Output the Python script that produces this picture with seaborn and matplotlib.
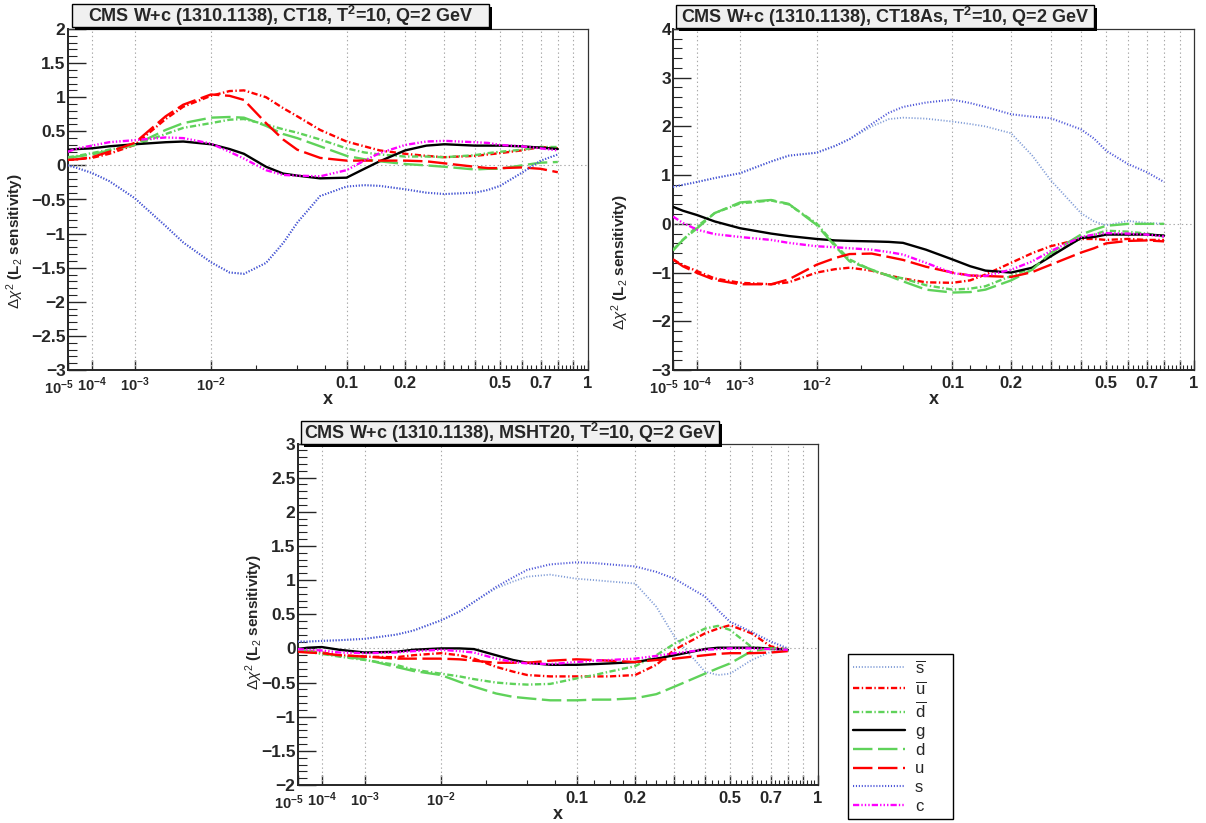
import numpy as np
import matplotlib
matplotlib.use("Agg")
import matplotlib.pyplot as plt
from matplotlib.lines import Line2D
from matplotlib.patches import Rectangle
from matplotlib.ticker import FixedLocator, MultipleLocator
import seaborn as sns

x_vals = [1e-5, 3e-5, 1e-4, 3e-4, 1e-3, 3e-3, 5e-3, 1e-2, 0.015, 0.02, 0.03, 0.04, 0.05,
          0.07, 0.1, 0.125, 0.15, 0.2, 0.25, 0.3, 0.4, 0.45, 0.5, 0.6, 0.7, 0.8]

# CT18
ct18_sbar = [0.0, -0.04, -0.11, -0.23, -0.48, -0.89, -1.13, -1.42, -1.57, -1.59, -1.43, -1.14, -0.84,
             -0.45, -0.31, -0.29, -0.30, -0.35, -0.40, -0.42, -0.40, -0.36, -0.30, -0.11, 0.07, 0.16]
ct18_ubar = [0.08, 0.09, 0.11, 0.17, 0.30, 0.68, 0.86, 1.02, 1.09, 1.10, 1.00, 0.84, 0.72,
             0.52, 0.35, 0.28, 0.22, 0.17, 0.14, 0.12, 0.14, 0.16, 0.18, 0.22, 0.27, 0.25]
ct18_dbar = [0.12, 0.14, 0.18, 0.23, 0.30, 0.46, 0.55, 0.62, 0.67, 0.68, 0.60, 0.53, 0.48,
             0.38, 0.25, 0.19, 0.16, 0.13, 0.13, 0.12, 0.15, 0.18, 0.20, 0.23, 0.27, 0.27]
ct18_g = [0.23, 0.24, 0.25, 0.28, 0.31, 0.34, 0.35, 0.31, 0.24, 0.17, -0.02, -0.12, -0.15,
          -0.19, -0.18, -0.05, 0.06, 0.22, 0.29, 0.31, 0.29, 0.29, 0.29, 0.28, 0.26, 0.24]
ct18_d = [0.11, 0.13, 0.16, 0.22, 0.30, 0.52, 0.62, 0.70, 0.71, 0.70, 0.58, 0.46, 0.40,
          0.28, 0.14, 0.09, 0.06, 0.02, 0.0, -0.02, -0.06, -0.05, -0.05, 0.00, 0.04, 0.05]
ct18_u = [0.08, 0.09, 0.12, 0.20, 0.33, 0.72, 0.89, 1.04, 1.02, 0.96, 0.62, 0.38, 0.23,
          0.11, 0.07, 0.07, 0.07, 0.07, 0.06, 0.03, -0.02, -0.04, -0.04, -0.03, -0.05, -0.10]
ct18_s = [0.0, -0.04, -0.11, -0.23, -0.48, -0.89, -1.13, -1.42, -1.57, -1.59, -1.43, -1.14, -0.84,
          -0.45, -0.31, -0.29, -0.30, -0.35, -0.40, -0.42, -0.40, -0.36, -0.30, -0.11, 0.07, 0.16]
ct18_c = [0.20, 0.25, 0.29, 0.34, 0.37, 0.41, 0.40, 0.32, 0.20, 0.10, -0.07, -0.14, -0.15,
          -0.16, -0.07, 0.07, 0.18, 0.30, 0.35, 0.36, 0.34, 0.33, 0.30, 0.28, 0.25, 0.22]

# CT18As
ct18as_sbar = [0.76, 0.80, 0.86, 0.94, 1.04, 1.28, 1.40, 1.46, 1.60, 1.74, 2.00, 2.15, 2.18,
               2.16, 2.10, 2.05, 2.00, 1.86, 1.40, 0.90, 0.22, 0.05, -0.03, 0.06, 0.02, 0.0]
ct18as_ubar = [-0.73, -0.85, -0.97, -1.12, -1.21, -1.24, -1.20, -1.00, -0.93, -0.90, -0.96, -1.06, -1.12,
               -1.20, -1.21, -1.16, -1.04, -0.80, -0.60, -0.46, -0.31, -0.31, -0.33, -0.31, -0.33, -0.33]
ct18as_dbar = [-0.53, -0.33, -0.05, 0.22, 0.42, 0.48, 0.40, 0.01, -0.43, -0.73, -0.95, -1.06, -1.12,
               -1.26, -1.35, -1.33, -1.28, -1.07, -0.90, -0.65, -0.29, -0.22, -0.14, -0.16, -0.20, -0.26]
ct18as_g = [0.35, 0.27, 0.18, 0.05, -0.09, -0.20, -0.25, -0.31, -0.34, -0.35, -0.36, -0.37, -0.39,
            -0.53, -0.73, -0.87, -0.96, -1.00, -0.90, -0.67, -0.29, -0.27, -0.22, -0.22, -0.22, -0.24]
ct18as_d = [-0.55, -0.33, -0.09, 0.22, 0.44, 0.49, 0.41, -0.02, -0.46, -0.77, -0.94, -1.07, -1.18,
            -1.35, -1.41, -1.40, -1.35, -1.16, -0.94, -0.60, -0.22, -0.12, -0.04, 0.0, 0.0, 0.0]
ct18as_u = [-0.73, -0.87, -1.01, -1.15, -1.24, -1.24, -1.14, -0.84, -0.70, -0.62, -0.61, -0.68, -0.74,
            -0.88, -1.00, -1.06, -1.07, -1.09, -0.99, -0.84, -0.59, -0.50, -0.40, -0.35, -0.34, -0.36]
ct18as_s = [0.76, 0.80, 0.86, 0.94, 1.04, 1.28, 1.40, 1.46, 1.60, 1.74, 2.05, 2.28, 2.40,
            2.49, 2.55, 2.48, 2.40, 2.25, 2.20, 2.17, 1.94, 1.75, 1.50, 1.23, 1.06, 0.86]
ct18as_c = [0.15, 0.02, -0.12, -0.21, -0.27, -0.33, -0.39, -0.46, -0.48, -0.50, -0.53, -0.58, -0.63,
            -0.80, -1.01, -1.06, -1.07, -0.94, -0.77, -0.56, -0.27, -0.22, -0.19, -0.20, -0.22, -0.26]

# MSHT20
msht_sbar = [0.10, 0.10, 0.11, 0.12, 0.14, 0.20, 0.26, 0.41, 0.54, 0.68, 0.88, 0.98, 1.05,
             1.08, 1.02, 1.00, 0.98, 0.95, 0.61, 0.17, -0.34, -0.39, -0.37, -0.17, -0.05, -0.01]
msht_ubar = [-0.02, -0.04, -0.06, -0.10, -0.12, -0.13, -0.10, -0.07, -0.10, -0.15, -0.27, -0.34, -0.39,
             -0.41, -0.41, -0.41, -0.41, -0.39, -0.24, -0.02, 0.22, 0.29, 0.34, 0.22, 0.03, -0.02]
msht_dbar = [-0.02, -0.05, -0.08, -0.12, -0.17, -0.24, -0.31, -0.37, -0.41, -0.45, -0.50, -0.52, -0.53,
             -0.52, -0.44, -0.39, -0.34, -0.26, -0.10, 0.07, 0.29, 0.33, 0.27, 0.02, -0.01, -0.02]
msht_g = [-0.01, 0.01, 0.02, -0.02, -0.06, -0.05, -0.02, 0.0, 0.0, -0.01, -0.10, -0.17, -0.21,
          -0.24, -0.24, -0.23, -0.22, -0.20, -0.15, -0.10, -0.01, 0.01, 0.01, 0.01, 0.0, -0.02]
msht_d = [-0.02, -0.04, -0.07, -0.11, -0.16, -0.27, -0.33, -0.39, -0.49, -0.56, -0.66, -0.71, -0.73,
          -0.76, -0.76, -0.75, -0.75, -0.73, -0.67, -0.56, -0.37, -0.29, -0.22, -0.04, 0.0, -0.01]
msht_u = [-0.05, -0.06, -0.07, -0.10, -0.12, -0.15, -0.15, -0.15, -0.16, -0.18, -0.21, -0.21, -0.21,
          -0.18, -0.16, -0.17, -0.18, -0.20, -0.17, -0.15, -0.10, -0.08, -0.07, -0.07, -0.06, -0.04]
msht_s = [0.10, 0.10, 0.11, 0.12, 0.14, 0.20, 0.26, 0.41, 0.54, 0.68, 0.90, 1.04, 1.15,
          1.23, 1.26, 1.25, 1.23, 1.20, 1.12, 1.02, 0.76, 0.56, 0.39, 0.24, 0.10, 0.0]
msht_c = [-0.01, -0.02, -0.03, -0.06, -0.07, -0.06, -0.04, -0.02, -0.04, -0.06, -0.15, -0.20, -0.22,
          -0.23, -0.20, -0.18, -0.17, -0.15, -0.11, -0.07, -0.02, -0.01, 0.0, 0.0, -0.01, -0.02]

flavours = ["sbar", "ubar", "dbar", "g", "d", "u", "s", "c"]
legend_labels = [r"$\overline{\mathrm{s}}$", r"$\overline{\mathrm{u}}$", r"$\overline{\mathrm{d}}$",
                 "g", "d", "u", "s", "c"]

x_ticks = [1e-5, 1e-4, 1e-3, 1e-2, 0.1, 0.2, 0.3, 0.4, 0.5, 0.6, 0.7, 0.8, 0.9, 1.0]
x_ticklabels = ["", r"$\mathbf{10^{-4}}$", r"$\mathbf{10^{-3}}$", r"$\mathbf{10^{-2}}$",
                "0.1", "0.2", "", "", "0.5", "", "0.7", "", "", "1"]
first_label = r"$\mathbf{10^{-5}}$"
grid_x = [1e-4, 1e-3, 1e-2, 0.1, 0.2, 0.3, 0.4, 0.5, 0.6, 0.7, 0.8, 0.9]

green = "#5fd25a"
styles = {
    "sbar": ("#7f9bd6", (0, (0.8, 1.3)), 1.3),
    "ubar": ("#ff0000", (0, (4.5, 1.8, 1.0, 1.8)), 1.7),
    "dbar": (green, (0, (4.5, 1.8, 1.0, 1.8)), 1.7),
    "g": ("black", "-", 1.7),
    "d": (green, (0, (14, 4)), 1.7),
    "u": ("#ff0000", (0, (14, 4)), 1.7),
    "s": ("#4d56d8", (0, (0.8, 1.3)), 1.5),
    "c": ("#ff00ff", (0, (4.5, 1.5, 1.0, 1.5, 1.0, 1.5, 1.0, 1.5)), 1.7),
}

sns.set_style("ticks")
plt.rcParams["font.family"] = ["Liberation Sans", "DejaVu Sans"]
plt.rcParams["mathtext.fontset"] = "custom"
plt.rcParams["mathtext.rm"] = "Liberation Sans"
plt.rcParams["mathtext.bf"] = "Liberation Sans:bold"
plt.rcParams["mathtext.it"] = "Liberation Sans:italic"
plt.rcParams["lines.scale_dashes"] = False

W, H = 1206, 823
fig = plt.figure(figsize=(W / 100, H / 100), dpi=100)


def fwd(v):
    return np.power(np.clip(v, 1e-12, None), 0.25)


def inv(v):
    return np.power(np.clip(v, 0, None), 4)


def title_box(x0, y0, x1, y1, text):
    fig.patches.append(Rectangle(((x0 + 3) / W, 1 - (y1 + 3) / H), (x1 - x0) / W, (y1 - y0) / H,
                                 transform=fig.transFigure, facecolor="black", edgecolor="none", zorder=5))
    fig.patches.append(Rectangle((x0 / W, 1 - y1 / H), (x1 - x0) / W, (y1 - y0) / H,
                                 transform=fig.transFigure, facecolor="#f0f0f0", edgecolor="black",
                                 lw=1, zorder=6))
    fig.text((x0 + x1) / 2 / W, 1 - (y0 + y1) / 2 / H, text, ha="center", va="center",
             fontsize=13, fontweight="bold", zorder=7)


def draw_panel(rect, curves, ylim, ymaj, ymin, ylab_xy):
    ax = fig.add_axes(rect)
    for key in flavours:
        col, ls, lw = styles[key]
        sns.lineplot(x=x_vals, y=curves[key], ax=ax, color=col, linestyle=ls, linewidth=lw,
                     estimator=None, sort=False, zorder=3)
    ax.set_xscale("function", functions=(fwd, inv))
    ax.set_xlim(1e-5, 1)
    ax.set_ylim(*ylim)

    for gx in grid_x:
        ax.axvline(gx, color="#a8a8a8", ls=(0, (1, 2)), lw=0.8, zorder=1)
    ax.axhline(0, color="#a8a8a8", ls=(0, (1, 2)), lw=0.8, zorder=1)

    ax.xaxis.set_major_locator(FixedLocator(x_ticks))
    ax.set_xticklabels(x_ticklabels, fontweight="bold", fontsize=12)
    for lbl in ax.get_xticklabels()[:4]:
        lbl.set_fontsize(10.5)
    # the 10^-5 label sits a little left of the axis corner
    ax.annotate(first_label, xy=(1e-5, 0), xycoords=("data", "axes fraction"),
                xytext=(-6.5, -6.3), textcoords="offset points", ha="center", va="top",
                fontsize=10.5, annotation_clip=False)
    minor = [m for m in np.arange(0.025, 1.0, 0.025) if abs(m * 10 - round(m * 10)) > 1e-6]
    ax.xaxis.set_minor_locator(FixedLocator(minor))
    for t in ax.xaxis.get_major_ticks()[:4]:
        t.tick1line.set_visible(False)

    yt = np.arange(ylim[0], ylim[1] + 1e-9, ymaj)
    ax.set_yticks(yt)
    ax.set_yticklabels([f"{v:g}".replace("-", "\u2212") for v in yt], fontweight="bold", fontsize=12.5)
    ax.yaxis.set_minor_locator(MultipleLocator(ymin))

    ax.tick_params(axis="x", which="major", direction="in", length=7, width=1, pad=4,
                   top=False, bottom=True)
    ax.tick_params(axis="x", which="minor", direction="in", length=3.5, width=0.8,
                   top=False, bottom=True)
    ax.tick_params(axis="y", which="major", direction="in", length=13, width=1, pad=1.5,
                   left=True, right=False)
    ax.tick_params(axis="y", which="minor", direction="in", length=6.5, width=0.8,
                   left=True, right=False)
    for side in ["left", "bottom"]:
        ax.spines[side].set_linewidth(1.4)
    for side in ["top", "right"]:
        ax.spines[side].set_linewidth(0.9)
        ax.spines[side].set_color("#333333")

    ax.set_xlabel("x", fontsize=13, fontweight="bold", labelpad=-2)
    ax.set_ylabel(r"$\Delta\chi^{2}$ (L$_{2}$ sensitivity)", fontsize=11, fontweight="bold")
    ax.yaxis.set_label_coords(*ylab_xy)
    return ax


ct18 = dict(zip(flavours, [ct18_sbar, ct18_ubar, ct18_dbar, ct18_g, ct18_d, ct18_u, ct18_s, ct18_c]))
ct18as = dict(zip(flavours, [ct18as_sbar, ct18as_ubar, ct18as_dbar, ct18as_g, ct18as_d, ct18as_u,
                             ct18as_s, ct18as_c]))
msht = dict(zip(flavours, [msht_sbar, msht_ubar, msht_dbar, msht_g, msht_d, msht_u, msht_s, msht_c]))

draw_panel([67.7 / W, 1 - 370 / H, 520 / W, 341 / H], ct18, (-3, 2), 0.5, 0.1, (-0.08, 0.378))
draw_panel([673 / W, 1 - 370 / H, 521 / W, 341 / H], ct18as, (-3, 4), 1, 0.2, (-0.08, 0.317))
draw_panel([297.7 / W, 1 - 785 / H, 520 / W, 341.5 / H], msht, (-2, 3), 0.5, 0.1, (-0.063, 0.477))

title_box(72, 4, 489, 27, r"CMS W+c (1310.1138), CT18, T$^{\mathbf{2}}$=10, Q=2 GeV")
title_box(676, 5, 1094, 28, r"CMS W+c (1310.1138), CT18As, T$^{\mathbf{2}}$=10, Q=2 GeV")
title_box(301, 421, 719, 444, r"CMS W+c (1310.1138), MSHT20, T$^{\mathbf{2}}$=10, Q=2 GeV")

handles = [Line2D([0], [0], color=styles[k][0], linestyle=styles[k][1], lw=styles[k][2]) for k in flavours]
leg = fig.legend(handles, legend_labels, loc="center", mode="expand",
                 bbox_to_anchor=(840 / W, 1 - 817 / H, 121 / W, 161 / H), fontsize=12,
                 frameon=True, fancybox=False, edgecolor="black", framealpha=1,
                 handlelength=3.1, handletextpad=0.6, labelspacing=0.22, borderpad=0.3)
leg.get_frame().set_linewidth(1)

fig.savefig("out.png", dpi=100)
